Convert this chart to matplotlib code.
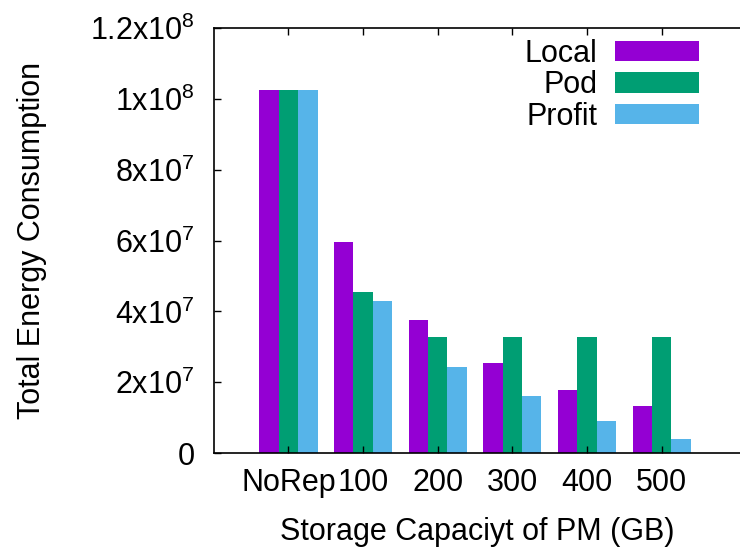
import numpy as np
import matplotlib
matplotlib.use("Agg")
import matplotlib.pyplot as plt
from matplotlib.ticker import FuncFormatter

plt.rcParams['font.family'] = ['Liberation Sans', 'DejaVu Sans']
plt.rcParams['mathtext.fontset'] = 'custom'
plt.rcParams['mathtext.rm'] = 'Liberation Sans'
plt.rcParams['mathtext.default'] = 'regular'

# donnees
categories = ['NoRep', '100', '200', '300', '400', '500']
local = [1.025e8, 5.97e7, 3.75e7, 2.54e7, 1.79e7, 1.33e7]
pod = [1.025e8, 4.54e7, 3.27e7, 3.27e7, 3.27e7, 3.27e7]
profit = [1.025e8, 4.31e7, 2.42e7, 1.61e7, 0.91e7, 0.39e7]

series = [('Local', local, '#9400D3'),
          ('Pod', pod, '#009E73'),
          ('Profit', profit, '#56B4E9')]

fs = 22

fig = plt.figure(figsize=(7.4, 5.5), dpi=100)
ax = fig.add_axes([0.289, 0.176, 0.711, 0.773])

x = np.arange(len(categories))
w = 0.26
for i, (nom, vals, couleur) in enumerate(series):
    ax.bar(x + (i - 1) * w, vals, w, color=couleur, label=nom)

ax.set_xlim(-1, 6.05)
ax.set_ylim(0, 1.2e8)
ax.set_xticks(x)
ax.set_xticklabels(categories)
ax.set_yticks(np.arange(0, 1.21e8, 2e7))


def fmt(v, pos):
    if v == 0:
        return '0'
    exp = int(np.floor(np.log10(v) + 1e-9))
    m = v / 10 ** exp
    ms = ('%g' % round(m, 2))
    return ms + 'x10$^{%d}$' % exp


ax.yaxis.set_major_formatter(FuncFormatter(fmt))
ax.tick_params(direction='in', length=5, width=1, top=True, right=False,
               labelsize=fs, colors='black')
ax.tick_params(axis='y', pad=14)
ax.tick_params(axis='x', pad=11)
for s in ax.spines.values():
    s.set_linewidth(1.2)
ax.spines['right'].set_visible(False)

ax.set_xlabel('Storage Capaciyt of PM (GB)', fontsize=fs, labelpad=13)
ax.set_ylabel('Total Energy Consumption', fontsize=fs, labelpad=31)

ax.legend(loc='upper right', bbox_to_anchor=(0.923, 0.975), frameon=False,
          markerfirst=False, fontsize=fs, handlelength=2.75, handleheight=0.65,
          handletextpad=0.6, labelspacing=0.05, borderpad=0, borderaxespad=0)

fig.savefig('out.png', dpi=100)
